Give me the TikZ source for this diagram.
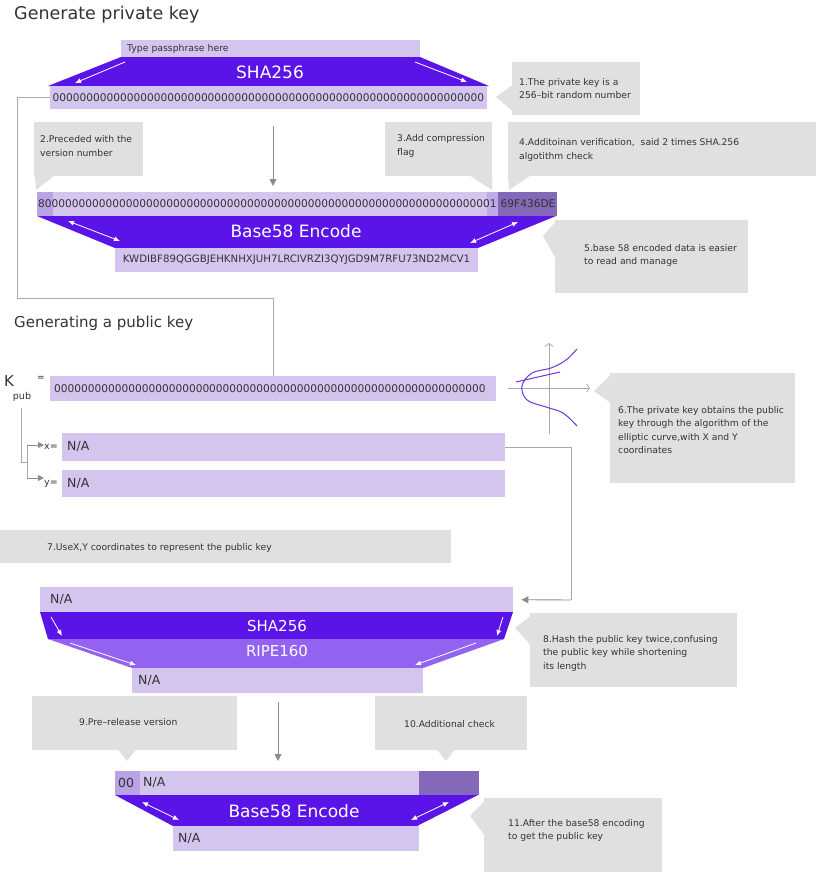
\documentclass[tikz,border=0pt]{standalone}
\usepackage{fontspec}
\setmainfont{DejaVu Sans}
\usetikzlibrary{arrows.meta,calc}
\definecolor{lav}{HTML}{D4C5EF}
\definecolor{dark}{HTML}{5B14E8}
\definecolor{med}{HTML}{9263F0}
\definecolor{segA}{HTML}{B9A3E6}
\definecolor{segB}{HTML}{BFAAE9}
\definecolor{chk}{HTML}{8469B8}
\definecolor{cgray}{HTML}{E0E0E0}
\definecolor{txt}{HTML}{333333}
\definecolor{lgray}{HTML}{A8A8A8}
\definecolor{agray}{HTML}{8C8C8C}
\definecolor{curvec}{HTML}{6A34DC}
\newcommand{\zz}{00000000000000000000000000000000}
\begin{document}
\begin{tikzpicture}[x=1pt,y=-1pt,
  lavbox/.style={fill=lav, inner sep=0pt, anchor=north west},
  callbox/.style={fill=cgray, inner sep=0pt, anchor=north west},
  ctext/.style={font=\fontsize{9.2}{13.5}\selectfont, text=txt, align=left, anchor=west, inner sep=0pt},
  btext/.style={font=\fontsize{12.5}{14}\selectfont, text=txt, anchor=west, inner sep=0pt},
  zeros/.style={font=\fontsize{10.6}{12}\selectfont, text=txt, inner sep=0pt},
  wtext/.style={text=white, inner sep=0pt},
  conn/.style={draw=lgray, line width=0.9pt},
  garrow/.style={draw=agray, line width=0.9pt, -{Triangle[length=7pt,width=7pt]}},
  warrow/.style={draw=white, line width=0.8pt, -{Latex[length=6pt,width=5pt]}},
  wdarrow/.style={draw=white, line width=0.8pt, {Latex[length=6pt,width=5pt]}-{Latex[length=6pt,width=5pt]}},
  axis/.style={draw=lgray, line width=0.8pt, -{Straight Barb[length=3pt,width=8pt]}},
]
\useasboundingbox (0,0) rectangle (839,878);

% ---------- Section 1 ----------
\node[anchor=west, font=\fontsize{17.5}{20}\selectfont, text=txt, inner sep=0pt] (t1) at (14,15) {Generate private key};

\node[lavbox, minimum width=299, minimum height=17] (pass) at (121,40) {};
\node[anchor=west, font=\fontsize{9.3}{10}\selectfont, text=txt, inner sep=0pt] (passt) at (127,48.5) {Type passphrase here};
\fill[dark] (121,57) -- (420,57) -- (489,86) -- (48,86) -- cycle;
\draw[warrow] (125,62) -- (75,83);
\draw[warrow] (415,62) -- (467,82);
\node[wtext, font=\fontsize{17}{20}\selectfont] (sha1) at (270,72.5) {SHA256};

\node[lavbox, minimum width=437, minimum height=23] (pk) at (50,86) {};
\node[zeros] (pkt) at (268.5,97.5) {\zz\zz};

% callout 1
\node[callbox, minimum width=128, minimum height=53] (c1) at (512,62) {};
\fill[cgray] ($(c1.north west)+(0.5,23)$) -- (496,97) -- ($(c1.north west)+(0.5,49)$) -- cycle;
\node[ctext] (c1t) at (519,88.5) {1.The private key is a\\256–bit random number};

% callout 2
\node[callbox, minimum width=109, minimum height=54] (c2) at (34,122) {};
\fill[cgray] ($(c2.south west)+(1,-0.5)$) -- ($(c2.south west)+(20,-0.5)$) -- (36,190) -- cycle;
\node[ctext] (c2t) at (40,146) {2.Preceded with the\\version number};

% callout 3
\node[callbox, minimum width=107, minimum height=54] (c3) at (385,122) {};
\fill[cgray] ($(c3.south east)+(-22,-0.5)$) -- ($(c3.south east)+(0,-0.5)$) -- (492,190) -- cycle;
\node[ctext] (c3t) at (397,146) {3.Add compression\\flag};

% callout 4
\node[callbox, minimum width=308, minimum height=54] (c4) at (508,122) {};
\fill[cgray] ($(c4.south west)+(0,-0.5)$) -- ($(c4.south west)+(22,-0.5)$) -- (509,190) -- cycle;
\node[ctext] (c4t) at (519,150) {4.Additoinan verification,\ \ said 2 times SHA.256\\algotithm check};

% arrow
\coordinate (a1s) at (273,126);
\coordinate (a1e) at (273,186);
\draw[garrow] (a1s) -- (a1e);

% row 2
\node[lavbox, fill=segA, minimum width=16, minimum height=24] (r2a) at (37,192) {};
\node[lavbox, minimum width=434, minimum height=24] (r2b) at (53,192) {};
\node[lavbox, fill=segB, minimum width=11, minimum height=24] (r2c) at (487,192) {};
\node[lavbox, fill=chk, minimum width=59, minimum height=24] (r2d) at (498,192) {};
\node[zeros, anchor=west] (r2t) at (38,204) {80\zz\zz 01};
\node[zeros, anchor=west] (r2u) at (500.5,204) {69F436DE};

\fill[dark] (37,216) -- (556,216) -- (478,248) -- (115,248) -- cycle;
\draw[wdarrow] (68,221) -- (120,241);
\draw[wdarrow] (470,243) -- (518,222);
\node[wtext, font=\fontsize{17}{20}\selectfont] (b58a) at (296,231) {Base58 Encode};

\node[lavbox, minimum width=363, minimum height=24] (wif) at (115,248) {};
\node[zeros, font=\fontsize{10.2}{12}\selectfont] (wift) at (296.5,260) {KWDIBF89QGGBJEHKNHXJUH7LRCIVRZI3QYJGD9M7RFU73ND2MCV1};

% callout 5
\node[callbox, minimum width=193, minimum height=73] (c5) at (555,220) {};
\fill[cgray] ($(c5.north west)+(0.5,2)$) -- (543,236) -- ($(c5.north west)+(0.5,38)$) -- cycle;
\node[ctext] (c5t) at (584,255.5) {5.base 58 encoded data is easier\\to read and manage};

% ---------- Section 2 ----------
\node[anchor=west, font=\fontsize{15}{18}\selectfont, text=txt, inner sep=0pt] (t2) at (14,323) {Generating a public key};

\node[lavbox, minimum width=446, minimum height=25] (kp) at (50,376) {};
\node[zeros] (kpt) at (270,388.5) {\zz\zz};
\coordinate (turn1) at (17,298);
\draw[conn] (pk.west) -| (turn1) -| (kp.north);

\node[anchor=west, font=\fontsize{15}{17}\selectfont, text=txt, inner sep=0pt] (K) at (4,381) {K};
\node[font=\fontsize{9.5}{11}\selectfont, text=txt, inner sep=0pt] (pub) at (22,397) {pub};
\node[font=\fontsize{9}{11}\selectfont, text=txt, inner sep=0pt] (eq) at (41,378) {=};

\node[lavbox, minimum width=443, minimum height=28] (xb) at (62,433) {};
\node[lavbox, minimum width=443, minimum height=27] (yb) at (62,470) {};
\node[btext, font=\fontsize{9.5}{11}\selectfont] (xl) at (44,447) {x=};
\node[btext, font=\fontsize{9.5}{11}\selectfont] (yl) at (44,484) {y=};
\node[btext] (xt) at (67,447) {N/A};
\node[btext] (yt) at (67,484) {N/A};

\coordinate (tr0) at (21,408);
\coordinate (tr1) at (21,462);
\coordinate (tr2) at (27,462);
\coordinate (trx) at (27,445);
\coordinate (try) at (27,478);
\coordinate (tx) at (44,445);
\coordinate (ty) at (44,478);
\draw[conn] (tr0) -- (tr1) -- (tr2);
\draw[conn] (trx) -- (try);
\draw[garrow, -{Triangle[length=6pt,width=6pt]}] (trx) -- (tx);
\draw[garrow, -{Triangle[length=6pt,width=6pt]}] (try) -- (ty);

% elliptic curve
\coordinate (yax0) at (549,434);
\coordinate (yax1) at (549,343);
\coordinate (xax0) at (508,388);
\coordinate (xax1) at (590,388);
\draw[axis] (yax0) -- (yax1);
\draw[axis] (xax0) -- (xax1);
\draw[curvec, line width=1pt] plot[smooth, tension=0.6] coordinates {(577,349) (566,360) (551,368) (532,373) (522,386) (527,400) (546,407) (563,413) (577,426)};
\draw[curvec, line width=1pt] (516,382) -- (560,372);

% callout 6
\node[callbox, minimum width=185, minimum height=110] (c6) at (610,373) {};
\fill[cgray] ($(c6.north west)+(0.5,2)$) -- (594,391) -- ($(c6.north west)+(0.5,30)$) -- cycle;
\node[ctext] (c6t) at (618,430) {6.The private key obtains the public\\key through the algorithm of the\\elliptic curve,with X and Y\\coordinates};

% callout 7
\node[callbox, minimum width=451, minimum height=33] (c7) at (0,530) {};
\node[ctext] (c7t) at (47,547.5) {7.UseX,Y coordinates to represent the public key};

% hashing
\node[lavbox, minimum width=473, minimum height=25] (na1) at (40,587) {};
\node[btext] (na1t) at (50,600) {N/A};
\coordinate (na1in) at ($(na1.east)+(8,0)$);
\coordinate (turn2) at (571,600);
\draw[conn] (xb.east) -| (turn2);
\draw[garrow] (turn2) -- (na1in);

\fill[dark] (40,612) -- (513,612) -- (504,639) -- (48,639) -- cycle;
\draw[warrow] (51,617) -- (62,636);
\draw[warrow] (503,617) -- (497,636);
\node[wtext, font=\fontsize{15}{18}\selectfont] (sha2) at (277,626.5) {SHA256};
\fill[med] (48,639) -- (504,639) -- (423,668) -- (132,668) -- cycle;
\draw[warrow] (70,643) -- (136,665);
\draw[warrow] (476,643) -- (415,665);
\node[wtext, font=\fontsize{15}{18}\selectfont] (ripe) at (277,651) {RIPE160};

\node[lavbox, minimum width=291, minimum height=25] (na2) at (132,668) {};
\node[btext] (na2t) at (138,681) {N/A};

% callout 8
\node[callbox, minimum width=207, minimum height=74] (c8) at (530,613) {};
\fill[cgray] ($(c8.north west)+(0.5,3)$) -- (515,628) -- ($(c8.north west)+(0.5,32)$) -- cycle;
\node[ctext] (c8t) at (543,653) {8.Hash the public key twice,confusing\\the public key while shortening\\its length};

% callout 9
\node[callbox, minimum width=205, minimum height=54] (c9) at (32,696) {};
\fill[cgray] (118,749.5) -- (136,749.5) -- (127,761) -- cycle;
\node[ctext] (c9t) at (79,722) {9.Pre–release version};

\coordinate (a2s) at (278,702);
\coordinate (a2e) at (278,761);
\draw[garrow] (a2s) -- (a2e);

% callout 10
\node[callbox, minimum width=152, minimum height=54] (c10) at (375,696) {};
\fill[cgray] (437,749.5) -- (455,749.5) -- (446,761) -- cycle;
\node[ctext] (c10t) at (404,724) {10.Additional check};

% row 3
\node[lavbox, fill=segA, minimum width=25, minimum height=24] (r3a) at (115,771) {};
\node[lavbox, minimum width=279, minimum height=24] (r3b) at (140,771) {};
\node[lavbox, fill=chk, minimum width=60, minimum height=24] (r3c) at (419,771) {};
\node[btext] (r3at) at (118,783) {00};
\node[btext] (r3bt) at (143,783) {N/A};

\fill[dark] (115,795) -- (478,795) -- (417,826) -- (173,826) -- cycle;
\draw[wdarrow] (142,802) -- (179,820);
\draw[wdarrow] (449,802) -- (411,820);
\node[wtext, font=\fontsize{17}{20}\selectfont] (b58b) at (294,811) {Base58 Encode};

\node[lavbox, minimum width=246, minimum height=25] (na3) at (173,826) {};
\node[btext] (na3t) at (178,838.5) {N/A};

% callout 11
\node[callbox, minimum width=178, minimum height=74] (c11) at (484,798) {};
\fill[cgray] ($(c11.north west)+(0.5,3)$) -- (470,816) -- ($(c11.north west)+(0.5,37)$) -- cycle;
\node[ctext] (c11t) at (508,830.5) {11.After the base58 encoding\\to get the public key};

\end{tikzpicture}
\end{document}
